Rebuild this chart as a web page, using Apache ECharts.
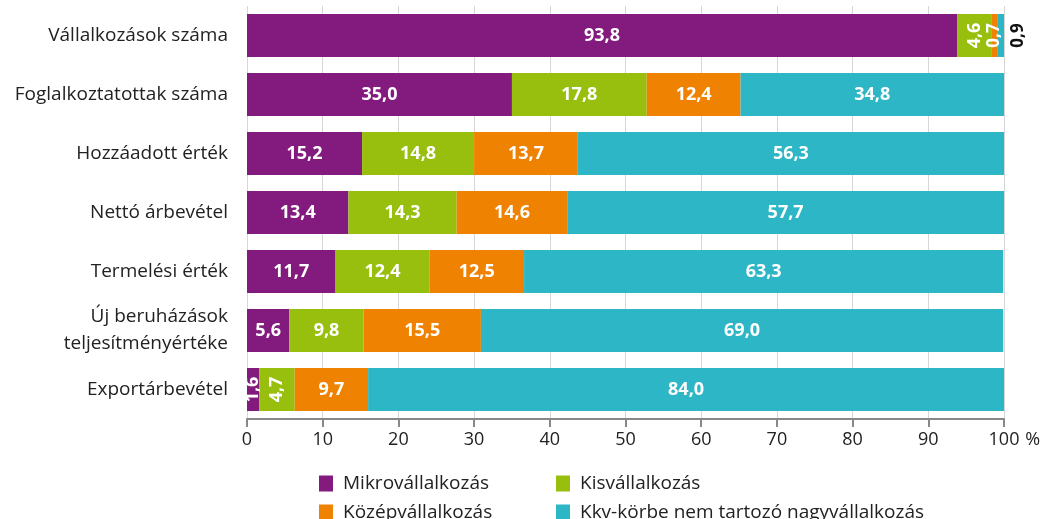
<!DOCTYPE html>
<html>
<head>
<meta charset="utf-8">
<script src="https://cdn.jsdelivr.net/npm/echarts@6/dist/echarts.min.js"></script>
<style>
html, body { margin: 0; padding: 0; background: #fff; }
#chart { width: 1046px; height: 519px; }
</style>
</head>
<body>
<div id="chart"></div>
<script>
var categories = [
    'Vállalkozások száma',
    'Foglalkoztatottak száma',
    'Hozzáadott érték',
    'Nettó árbevétel',
    'Termelési érték',
    'Új beruházások\nteljesítményértéke',
    'Exportárbevétel'
];
var mikro = [93.8, 35.0, 15.2, 13.4, 11.7, 5.6, 1.6];
var kis = [4.6, 17.8, 14.8, 14.3, 12.4, 9.8, 4.7];
var kozep = [0.7, 12.4, 13.7, 14.6, 12.5, 15.5, 9.7];
var nagy = [0.9, 34.8, 56.3, 57.7, 63.3, 69.0, 84.0];

var seriesNames = ['Mikrovállalkozás', 'Kisvállalkozás', 'Középvállalkozás', 'Kkv-körbe nem tartozó nagyvállalkozás'];
var colors = ['#831b7e', '#98bf0e', '#ef8200', '#2db6c6'];
var fontFam = '"Open Sans", "Noto Sans", sans-serif';

function fmt(v) {
    return v.toFixed(1).replace('.', ',');
}

// kis értékek elforgatva, a 0,9 a sáv mellett kívül
function buildData(values) {
    return values.map(function(v) {
        var item = { value: v };
        if (v < 0.8) {
            item.label = { rotate: 90, fontSize: 17 };
        } else if (v < 1) {
            item.label = {
                rotate: 90,
                position: ['100%', '50%'],
                offset: [0, 14],
                align: 'center',
                verticalAlign: 'middle',
                color: '#111',
                fontSize: 17
            };
        } else if (v < 5) {
            item.label = { rotate: 90 };
        }
        return item;
    });
}

var allSeries = [mikro, kis, kozep, nagy];
var series = allSeries.map(function(vals, i) {
    return {
        name: seriesNames[i],
        type: 'bar',
        stack: 'total',
        barWidth: 43,
        itemStyle: { color: colors[i] },
        label: {
            show: true,
            position: 'inside',
            color: '#fff',
            fontFamily: fontFam,
            fontWeight: 'bold',
            fontSize: 18,
            formatter: function(p) { return fmt(p.value); }
        },
        data: buildData(vals)
    };
});

var legendPos = [[319, 474], [556, 474], [319, 503], [556, 503]];
var legends = seriesNames.map(function(n, i) {
    return {
        data: [n],
        left: legendPos[i][0],
        top: legendPos[i][1],
        padding: 0,
        itemWidth: 14,
        itemHeight: 16,
        icon: 'rect',
        selectedMode: false,
        textStyle: {
            fontFamily: fontFam,
            fontSize: 19,
            color: '#222',
            padding: [0, 0, 0, 5]
        }
    };
});

var chart = echarts.init(document.getElementById('chart'));
chart.setOption({
    backgroundColor: '#fff',
    animation: false,
    color: colors,
    legend: legends,
    grid: { left: 247, right: 42, top: 6, bottom: 100, containLabel: false },
    xAxis: {
        type: 'value',
        min: 0,
        max: 100,
        interval: 10,
        name: '%',
        nameLocation: 'end',
        nameGap: 18,
        nameTextStyle: {
            fontFamily: fontFam,
            fontSize: 18,
            color: '#222',
            verticalAlign: 'top',
            padding: [12, 0, 0, 0]
        },
        axisLine: { show: true, lineStyle: { color: '#888', width: 2 } },
        axisTick: { show: true, length: 8, lineStyle: { color: '#888', width: 2 } },
        axisLabel: { fontFamily: fontFam, fontSize: 18, color: '#222', margin: 12 },
        splitLine: { show: true, lineStyle: { color: '#d6d6d6', width: 1 } }
    },
    yAxis: {
        type: 'category',
        inverse: true,
        data: categories,
        axisLine: { show: false },
        axisTick: { show: false },
        axisLabel: {
            fontFamily: fontFam,
            fontSize: 19,
            color: '#222',
            margin: 19,
            lineHeight: 27,
            align: 'right'
        }
    },
    series: series
});
window.onresize = chart.resize;
</script>
</body>
</html>
